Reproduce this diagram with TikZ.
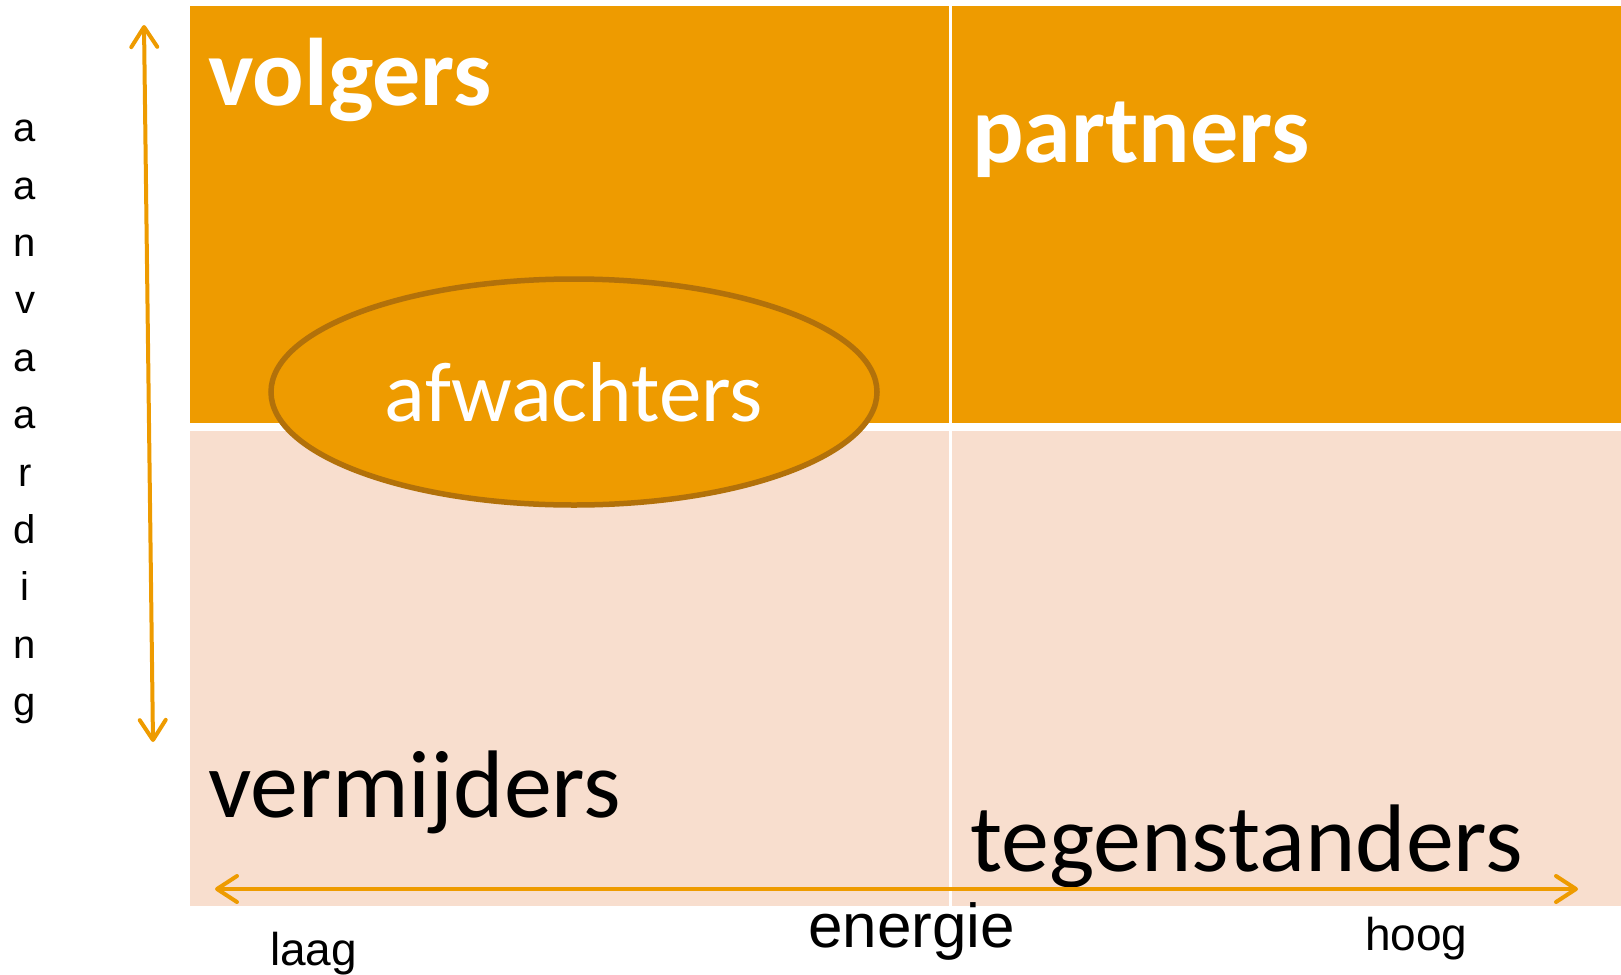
\documentclass[tikz,border=0pt]{standalone}
\usepackage{fontspec}
\usetikzlibrary{arrows.meta,shapes.geometric}
\newfontfamily\bodyfont{Carlito}
\newfontfamily\axisfont{Liberation Sans}
\definecolor{bandorange}{RGB}{238,155,0}
\definecolor{bandpeach}{RGB}{248,222,206}
\definecolor{rimbrown}{RGB}{178,113,10}
\tikzset{
  big/.style={inner sep=0pt, anchor=base west, font=\bodyfont\fontsize{96}{100}\selectfont},
  bigbold/.style={big, font=\bodyfont\bfseries\fontsize{96}{100}\selectfont, text=white},
  axislabel/.style={inner sep=0pt, anchor=base west, font=\axisfont\fontsize{46}{50}\selectfont},
  vletter/.style={inner sep=0pt, anchor=base, font=\axisfont\fontsize{40}{44}\selectfont},
  axisarrow/.style={draw=bandorange, line width=4pt, line cap=round,
    {Straight Barb[length=20pt,width=26pt,round]}-{Straight Barb[length=20pt,width=26pt,round]}},
}
\begin{document}
\begin{tikzpicture}[x=1pt,y=-1pt]
\useasboundingbox (0,0) rectangle (1621,974);
% quadrant bands
\fill[bandorange] (190,6) rectangle (1621,423);
\fill[bandpeach] (190,431) rectangle (1621,906);
\fill[white] (949,6) rectangle (952,906);
% waiting group straddling the bands
\node[ellipse, draw=rimbrown, line width=5.5pt, fill=bandorange,
      minimum width=606pt, minimum height=226pt, inner sep=0pt] (wait) at (574,392) {};
\node[big, anchor=base, text=white, font=\bodyfont\fontsize{85}{90}\selectfont] (afw) at (574,421) {afwachters};
% quadrant titles
\node[bigbold] (volg) at (208,105) {volgers};
\node[bigbold] (part) at (972,162) {partners};
\node[big] (verm) at (208,817) {vermijders};
\node[big] (tegen) at (970,871) {tegenstanders};
% axes
\coordinate (vtop) at (144,25);
\coordinate (vbot) at (153,742);
\coordinate (hl) at (215,889);
\coordinate (hr) at (1578,889);
\draw[axisarrow] (vtop) -- (vbot);
\draw[axisarrow] (hl) -- (hr);
% axis labels
\node[axislabel, font=\axisfont\fontsize{62}{66}\selectfont] (en) at (808,947) {energie};
\node[axislabel] (laag) at (270,965) {laag};
\node[axislabel] (hoog) at (1365,950) {hoog};
% vertical label, one letter per line
\foreach \ch [count=\i from 0] in {a,a,n,v,a,a,r,d,i,n,g}
  \node[vletter] (v\i) at (25,141.6+57.4*\i) {\ch};
\end{tikzpicture}
\end{document}
